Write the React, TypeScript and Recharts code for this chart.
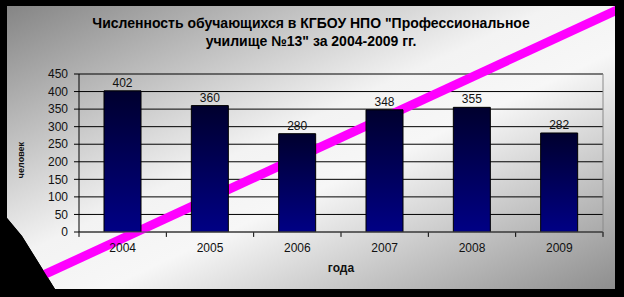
import { BarChart, Bar, XAxis, YAxis, CartesianGrid, LabelList, ReferenceLine } from "recharts";

// Численность обучающихся по годам
const years = ["2004", "2005", "2006", "2007", "2008", "2009"];
const students = [402, 360, 280, 348, 355, 282];
const yTicks = [0, 50, 100, 150, 200, 250, 300, 350, 400, 450];
// границы категорий для засечек оси X
const boundaries = [0, 1, 2, 3, 4, 5, 6];
// розовая линия "зачёркивания" в координатах данных (доля категорий / чел.)
const strikeLine = [
  { x: -0.56, y: -140 },
  { x: 6.22, y: 639 },
];

// pos — центр категории на вспомогательной числовой оси
const data = years.map((year, i) => ({ year, students: students[i], pos: i + 0.5 }));

const FONT = "'Liberation Sans', Arial, sans-serif";
const PANEL = "M7 6 H615 V289 H55 L22 236 L7 218 Z";

export default function App() {
  return (
    <div style={{ position: "absolute", left: 0, top: 0, width: 624, height: 297, background: "#000", fontFamily: FONT }}>
      {/* фон панели */}
      <svg width={624} height={297} style={{ position: "absolute", left: 0, top: 0 }}>
        <defs>
          <linearGradient id="panelGrad" x1="0" y1="0" x2="1" y2="1">
            <stop offset="0" stopColor="#858585" />
            <stop offset="0.45" stopColor="#f3f3f3" />
            <stop offset="0.58" stopColor="#f7f7f7" />
            <stop offset="1" stopColor="#8e8e8e" />
          </linearGradient>
        </defs>
        <path d={PANEL} fill="url(#panelGrad)" />
      </svg>

      <BarChart
        width={624}
        height={297}
        data={data}
        margin={{ top: 74, right: 21, left: 0, bottom: 21 }}
        style={{ position: "absolute", left: 0, top: 0, fontFamily: FONT }}
      >
        <defs>
          <linearGradient id="barGrad" x1="0" y1="0" x2="0" y2="1">
            <stop offset="0" stopColor="#00002e" />
            <stop offset="1" stopColor="#000085" />
          </linearGradient>
        </defs>
        <CartesianGrid vertical={false} stroke="#000" />
        <XAxis
          dataKey="year"
          height={44}
          tickLine={false}
          tickMargin={5}
          axisLine={{ stroke: "#555" }}
          tick={{ fontSize: 12, fill: "#111" }}
          label={(props: any) => {
            const vb = props.viewBox;
            return (
              <text x={vb.x + vb.width / 2} y={272} textAnchor="middle" fontSize={12} fontWeight="bold" fill="#111">
                года
              </text>
            );
          }}
        />
        <XAxis xAxisId="num" dataKey="pos" type="number" domain={[0, 6]} allowDataOverflow hide />
        <YAxis
          width={79}
          domain={[0, 450]}
          allowDataOverflow
          ticks={yTicks}
          interval={0}
          tickSize={5}
          tickMargin={6}
          tickLine={{ stroke: "#000" }}
          axisLine={{ stroke: "#000" }}
          tick={{ fontSize: 12, fill: "#111" }}
          label={(props: any) => {
            const vb = props.viewBox;
            const cy = vb.y + vb.height / 2 + 7;
            return (
              <text x={22} y={cy} transform={`rotate(-90 22 ${cy})`} textAnchor="middle" dominantBaseline="middle" fontSize={9} fontWeight="bold" fill="#111">
                человек
              </text>
            );
          }}
        />
        <ReferenceLine
          xAxisId="num"
          segment={strikeLine}
          stroke="#ff00ff"
          strokeWidth={9}
          ifOverflow="visible"
          zIndex={-10}
        />
        <ReferenceLine
          xAxisId="num"
          segment={[{ x: 6, y: 0 }, { x: 6, y: 450 }]}
          stroke="#8a8a8a"
          ifOverflow="visible"
        />
        {boundaries.map((b) => (
          <ReferenceLine
            key={b}
            xAxisId="num"
            segment={[{ x: b, y: 0 }, { x: b, y: -14 }]}
            stroke="#000"
            ifOverflow="visible"
          />
        ))}
        <Bar dataKey="students" fill="url(#barGrad)" stroke="#000" strokeWidth={1} barSize={37} isAnimationActive={false}>
          <LabelList dataKey="students" position="top" offset={4} fontSize={12} fill="#111" />
        </Bar>
      </BarChart>

      {/* чёрная рамка и заголовок поверх */}
      <svg width={624} height={297} style={{ position: "absolute", left: 0, top: 0, pointerEvents: "none" }}>
        <path d={`M0 0 H624 V297 H0 Z ${PANEL}`} fill="#000" fillRule="evenodd" />
        <text x={311} textAnchor="middle" fontSize={14} fontWeight="bold" fill="#000" fontFamily={FONT}>
          <tspan x={311} y={28}>Численность обучающихся в КГБОУ НПО "Профессиональное</tspan>
          <tspan x={311} y={46}>училище №13" за 2004-2009 гг.</tspan>
        </text>
      </svg>
    </div>
  );
}
